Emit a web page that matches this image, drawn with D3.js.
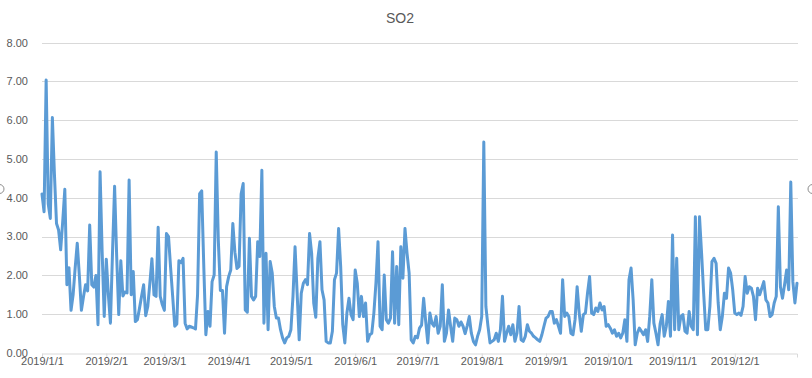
<!DOCTYPE html>
<html>
<head>
<meta charset="utf-8">
<script src="https://d3js.org/d3.v7.min.js"></script>
<style>
  body { margin: 0; background: #fff; }
  text { font-family: "Liberation Sans", Arial, sans-serif; }
</style>
</head>
<body>
<div id="vis"></div>
<script>
// daily SO2 values, one array per month of 2019
const jan = [4.1, 3.64, 7.04, 3.85, 3.47, 6.07, 4.6, 3.34, 3.17, 2.66, 3.4, 4.22, 1.76, 2.2, 1.1, 1.5,
  2.2, 2.83, 2.0, 1.1, 1.45, 1.76, 1.6, 3.3, 1.76, 1.7, 2.0, 0.73, 4.67, 2.6, 0.94];
const feb = [2.42, 1.5, 0.77, 2.6, 4.3, 2.5, 0.99, 2.38, 1.47, 1.57, 1.55, 4.46, 1.5, 2.1, 0.81, 0.86,
  1.15, 1.46, 1.76, 0.96, 1.2, 1.8, 2.43, 1.5, 1.46, 3.24, 1.46, 1.25];
const mar = [1.1, 3.08, 3.0, 2.2, 1.46, 0.69, 0.75, 2.38, 2.33, 2.44, 0.77, 0.62, 0.69, 0.67, 0.65, 0.62,
  1.5, 4.11, 4.18, 2.23, 0.47, 1.07, 0.69, 1.84, 2.01, 5.18, 2.91, 1.61, 1.61, 0.51, 1.71];
const apr = [1.97, 2.14, 3.34, 2.6, 2.18, 2.23, 4.1, 4.37, 1.11, 1.05, 2.96, 1.46, 1.37, 1.46, 2.87,
  2.49, 4.71, 0.77, 2.57, 0.6, 2.36, 2.06, 1.2, 0.9, 0.9, 0.6, 0.39, 0.26, 0.39, 0.43];
const may = [0.6, 1.46, 2.74, 1.54, 0.34, 1.54, 1.8, 1.89, 1.76, 3.08, 2.57, 1.29, 0.92, 2.44, 2.87, 1.63,
  1.37, 0.3, 0.26, 0.26, 0.56, 1.89, 2.06, 3.21, 2.23, 0.73, 0.26, 1.03, 1.41, 0.99, 0.86];
const jun = [2.14, 1.8, 0.94, 1.46, 0.94, 1.29, 0.3, 0.47, 0.51, 1.03, 1.8, 2.87, 0.69, 0.6, 2.01, 0.86,
  0.77, 0.9, 2.61, 0.77, 2.23, 0.73, 2.74, 1.93, 3.21, 2.57, 2.06, 0.34, 0.26, 0.43];
const jul = [0.39, 0.64, 0.72, 1.41, 0.81, 0.26, 1.03, 0.77, 0.69, 0.94, 0.51, 0.69, 1.76, 0.3, 0.51, 1.11,
  0.69, 0.3, 0.9, 0.86, 0.69, 0.8, 0.69, 0.5, 0.7, 0.94, 0.51, 0.3, 0.21, 0.43, 0.6];
const aug = [0.94, 5.44, 1.2, 0.7, 0.26, 0.3, 0.34, 0.51, 0.3, 0.6, 1.46, 0.3, 0.51, 0.69, 0.47, 0.73,
  0.3, 0.51, 1.2, 0.34, 0.3, 0.43, 0.73, 0.56, 0.51, 0.43, 0.39, 0.34, 0.3, 0.47, 0.69];
const sep = [0.9, 0.94, 1.07, 1.07, 0.77, 0.86, 0.69, 0.51, 1.89, 0.94, 1.03, 0.94, 0.51, 0.47, 0.86,
  1.71, 1.03, 0.56, 0.99, 1.03, 1.54, 1.97, 1.03, 0.99, 1.16, 1.07, 1.29, 1.11, 1.2, 0.69];
const oct = [0.73, 0.64, 0.51, 0.6, 0.43, 0.51, 0.39, 0.51, 0.86, 0.3, 1.89, 2.19, 1.37, 0.21, 0.51, 0.64,
  0.56, 0.47, 0.6, 0.3, 0.95, 1.89, 0.77, 0.51, 0.21, 0.75, 0.99, 0.43, 0.69, 1.33, 0.43];
const nov = [3.04, 0.6, 2.44, 0.6, 0.94, 0.99, 0.56, 0.51, 1.07, 0.69, 0.6, 3.51, 0.47, 3.51, 2.57,
  1.54, 0.6, 0.6, 1.2, 2.36, 2.44, 2.31, 1.29, 0.6, 0.94, 1.54, 1.41, 2.19, 2.06, 1.63];
const dec = [1.03, 0.99, 1.03, 0.97, 1.2, 1.97, 1.54, 1.71, 1.67, 1.46, 0.86, 1.67, 1.5, 1.67, 1.84, 1.37,
  1.29, 0.94, 0.99, 1.29, 1.46, 3.77, 1.71, 1.41, 1.76, 2.14, 1.63, 4.41, 1.84, 1.29, 1.8];

const yTicks = [0, 1, 2, 3, 4, 5, 6, 7, 8];
const title = "SO2";

const dataset = [jan, feb, mar, apr, may, jun, jul, aug, sep, oct, nov, dec]
  .flat()
  .map((v, i) => ({ date: new Date(2019, 0, 1 + i), value: v }));

const W = 812, H = 378;
const plot = { left: 42, right: 797, top: 42.7, bottom: 353 };

const svg = d3.select("#vis")
  .append("svg")
  .attr("width", W)
  .attr("height", H);

const x = d3.scaleTime()
  .domain([new Date(2019, 0, 1), new Date(2019, 11, 31)])
  .range([plot.left, plot.right]);

const y = d3.scaleLinear()
  .domain([0, 8])
  .range([plot.bottom, plot.top]);

// GRIDLINES
svg.append("g")
  .selectAll("line")
  .data(yTicks.filter(d => d > 0))
  .enter()
  .append("line")
  .attr("x1", plot.left)
  .attr("x2", plot.right + 1)
  .attr("y1", d => Math.round(y(d)) + 0.5)
  .attr("y2", d => Math.round(y(d)) + 0.5)
  .attr("stroke", "#d9d9d9")
  .attr("stroke-width", 1);

// Y LABELS
svg.append("g")
  .selectAll("text")
  .data(yTicks)
  .enter()
  .append("text")
  .attr("x", 28)
  .attr("y", d => y(d))
  .attr("dy", "0.35em")
  .attr("text-anchor", "end")
  .attr("font-size", "11px")
  .attr("fill", "#595959")
  .text(d3.format(".2f"));

// X AXIS
const xAxis = svg.append("g")
  .attr("transform", `translate(0, ${Math.round(plot.bottom) + 0.5})`)
  .call(d3.axisBottom(x)
    .tickValues(d3.timeMonth.range(new Date(2019, 0, 1), new Date(2020, 0, 1)))
    .tickFormat(d3.timeFormat("%Y/%-m/%-d"))
    .tickSize(4)
    .tickSizeOuter(4)
    .tickPadding(0));

xAxis.select(".domain").attr("stroke", "#d9d9d9");
xAxis.selectAll(".tick line").attr("stroke", "#d9d9d9");
xAxis.selectAll(".tick text")
  .attr("fill", "#595959")
  .attr("font-size", "11px")
  .attr("font-family", "\"Liberation Sans\", Arial, sans-serif");

// LINE
const line = d3.line()
  .x(d => x(d.date))
  .y(d => y(d.value));

svg.append("path")
  .datum(dataset)
  .attr("d", line)
  .attr("fill", "none")
  .attr("stroke", "#5b9bd5")
  .attr("stroke-width", 3)
  .attr("stroke-linejoin", "round")
  .attr("stroke-linecap", "round");

// TITLE
svg.append("text")
  .attr("x", 400)
  .attr("y", 23)
  .attr("text-anchor", "middle")
  .attr("font-size", "14px")
  .attr("fill", "#595959")
  .text(title);

// chart frame handles
svg.selectAll(".handle")
  .data([-0.5, W + 0.5])
  .enter()
  .append("circle")
  .attr("class", "handle")
  .attr("cx", d => d)
  .attr("cy", 189)
  .attr("r", 4.5)
  .attr("fill", "#fff")
  .attr("stroke", "#8c8c8c")
  .attr("stroke-width", 1);
</script>
</body>
</html>
